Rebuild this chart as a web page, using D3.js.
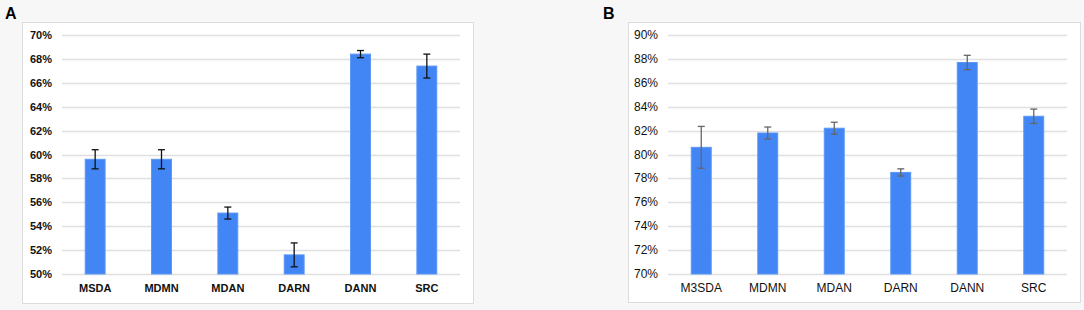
<!DOCTYPE html>
<html>
<head>
<meta charset="utf-8">
<script src="https://cdn.jsdelivr.net/npm/d3@7"></script>
<style>
  body { margin: 0; background: #f7f7f7; }
  text { font-family: "Liberation Sans", Arial, sans-serif; }
</style>
</head>
<body>
<div id="chart"></div>
<script>
// panel A
var methodsA = ["MSDA", "MDMN", "MDAN", "DARN", "DANN", "SRC"];
var meansA = [59.6, 59.6, 55.1, 51.6, 68.4, 67.4];
var errsA = [0.8, 0.8, 0.5, 1.0, 0.3, 1.0];
var ticksA = [50, 52, 54, 56, 58, 60, 62, 64, 66, 68, 70];

// panel B
var methodsB = ["M3SDA", "MDMN", "MDAN", "DARN", "DANN", "SRC"];
var meansB = [80.6, 81.8, 82.2, 78.5, 87.7, 83.2];
var errsB = [1.75, 0.5, 0.5, 0.3, 0.6, 0.6];
var ticksB = [70, 72, 74, 76, 78, 80, 82, 84, 86, 88, 90];

var width = 1084, height = 310;

var svg = d3.select('#chart')
  .append('svg')
  .attr('width', width)
  .attr('height', height)

function drawPanel(opt) {
  var g = svg.append('g');

  // white box
  g.append('rect')
    .attr('x', opt.box[0] + 0.5)
    .attr('y', opt.box[1] + 0.5)
    .attr('width', opt.box[2])
    .attr('height', opt.box[3])
    .attr('fill', '#fff')
    .attr('stroke', '#dcdcdc')

  g.append('text')
    .attr('x', opt.labelX)
    .attr('y', 19)
    .style('font-size', '16px')
    .style('font-weight', 'bold')
    .text(opt.label)

  var y = d3.scaleLinear()
    .domain(d3.extent(opt.ticks))
    .range([274, 35]);

  var x = d3.scaleBand()
    .domain(opt.methods)
    .range([opt.left, opt.right])
    .paddingInner(0.7)
    .paddingOuter(0.35);

  // gridlines
  g.selectAll('.grid')
    .data(opt.ticks)
    .join('line')
    .attr('x1', opt.left)
    .attr('x2', opt.right)
    .attr('y1', d => Math.round(y(d)) + 0.5)
    .attr('y2', d => Math.round(y(d)) + 0.5)
    .attr('stroke', '#e0e0e0')
    .attr('stroke-width', 1.5)

  g.selectAll('.tick')
    .data(opt.ticks)
    .join('text')
    .attr('x', opt.left - 10)
    .attr('y', d => y(d) + 4)
    .attr('text-anchor', 'end')
    .style('font-size', opt.fontSize)
    .style('font-weight', opt.weight)
    .style('fill', '#111')
    .text(d => d + '%')

  var data = opt.methods.map((m, i) => ({ m: m, v: opt.means[i], e: opt.errs[i] }));

  g.selectAll('.bar')
    .data(data)
    .join('rect')
    .attr('x', d => x(d.m))
    .attr('y', d => y(d.v))
    .attr('width', x.bandwidth())
    .attr('height', d => y(opt.ticks[0]) - y(d.v))
    .attr('fill', '#4285f4')
    .attr('stroke', '#5b97f6')
    .attr('stroke-width', 1)

  // error bars
  var cx = d => x(d.m) + x.bandwidth() / 2;
  g.selectAll('.err')
    .data(data)
    .join('line')
    .attr('x1', cx).attr('x2', cx)
    .attr('y1', d => y(d.v + d.e))
    .attr('y2', d => y(d.v - d.e))
    .attr('stroke', opt.errColor)
    .attr('stroke-width', 1.3)

  ;['top', 'bot'].forEach(function (k) {
    g.selectAll('.cap-' + k)
      .data(data)
      .join('line')
      .attr('x1', d => cx(d) - 3.5).attr('x2', d => cx(d) + 3.5)
      .attr('y1', d => y(k == 'top' ? d.v + d.e : d.v - d.e))
      .attr('y2', d => y(k == 'top' ? d.v + d.e : d.v - d.e))
      .attr('stroke', opt.errColor)
      .attr('stroke-width', 1.3)
  });

  g.selectAll('.xlab')
    .data(opt.methods)
    .join('text')
    .attr('x', d => x(d) + x.bandwidth() / 2)
    .attr('y', 292)
    .attr('text-anchor', 'middle')
    .style('font-size', opt.fontSize)
    .style('font-weight', opt.weight)
    .style('fill', '#111')
    .text(d => d)
}

drawPanel({
  box: [22, 22, 451, 281], label: 'A', labelX: 5,
  left: 62, right: 460,
  methods: methodsA, means: meansA, errs: errsA, ticks: ticksA,
  fontSize: '11px', weight: 'bold', errColor: '#111'
});

drawPanel({
  box: [628, 22, 452, 280], label: 'B', labelX: 603,
  left: 668, right: 1067,
  methods: methodsB, means: meansB, errs: errsB, ticks: ticksB,
  fontSize: '12px', weight: 'normal', errColor: '#666'
});
</script>
</body>
</html>
